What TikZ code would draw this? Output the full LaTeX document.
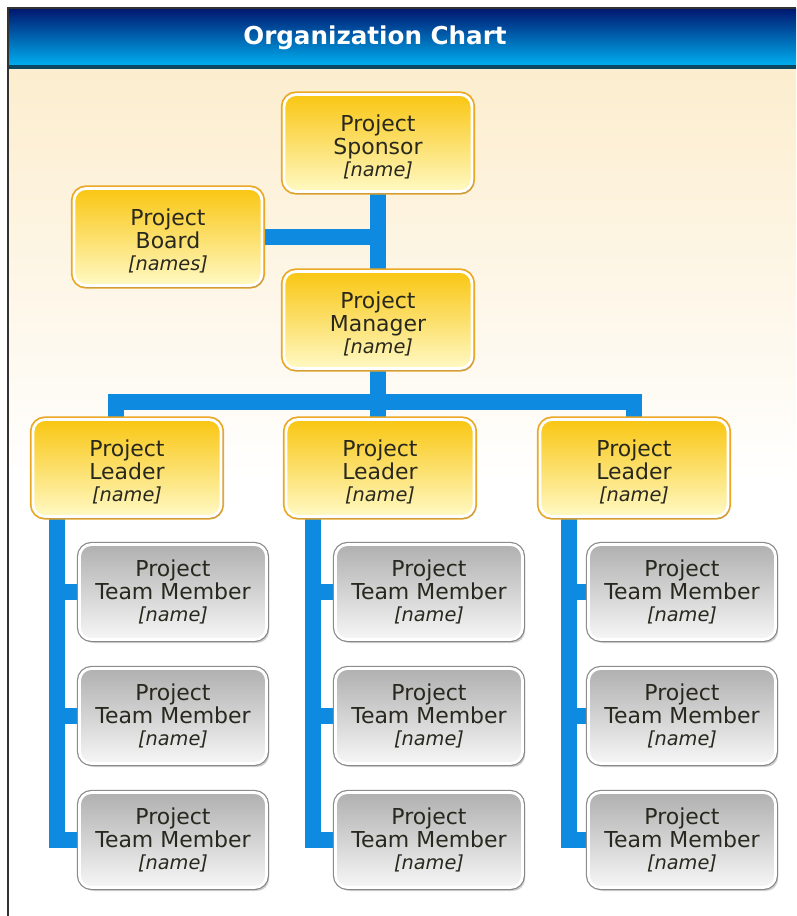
\documentclass[tikz,border=0pt]{standalone}
\usepackage{fontspec}
\setmainfont{DejaVu Sans}
\usetikzlibrary{positioning,shadows,backgrounds}

\definecolor{barblue}{RGB}{14,138,224}
\definecolor{goldtop}{RGB}{249,198,18}
\definecolor{goldbot}{RGB}{255,249,196}
\definecolor{goldedge}{RGB}{234,168,36}
\definecolor{greytop}{RGB}{176,176,176}
\definecolor{greybot}{RGB}{246,246,246}
\definecolor{greyedge}{RGB}{140,140,140}
\definecolor{cream}{RGB}{252,237,206}
\definecolor{navy}{RGB}{0,22,110}
\definecolor{midblue}{RGB}{6,60,160}
\definecolor{cyanish}{RGB}{0,176,240}
\definecolor{rimteal}{RGB}{12,70,96}
\definecolor{textdark}{RGB}{40,40,30}

\tikzset{
  boss/.style={rounded corners=0.24cm, minimum width=3.76cm, minimum height=1.94cm,
    align=center, top color=goldtop, bottom color=goldbot, draw=white, line width=1.6pt,
    preaction={draw=goldedge, line width=3.6pt},
    drop shadow={opacity=0.25, shadow xshift=1pt, shadow yshift=-1.5pt},
    font=\fontsize{12.5}{12.8}\selectfont, text=textdark},
  member/.style={rounded corners=0.24cm, minimum width=3.74cm, minimum height=1.9cm,
    align=center, top color=greytop, bottom color=greybot, draw=white, line width=1.6pt,
    preaction={draw=greyedge, line width=3pt},
    drop shadow={opacity=0.35, shadow xshift=1.5pt, shadow yshift=-2pt},
    font=\fontsize{12.5}{12.8}\selectfont, text=textdark},
  bar/.style={draw=barblue, line width=9pt},
  titletext/.style={font=\bfseries\fontsize{14}{16}\selectfont, text=white}
}
\newcommand{\who}[1]{{\fontsize{11}{12.8}\selectfont\itshape[#1]}}
\newcommand{\up}{\rule{0pt}{14.5pt}}

\begin{document}
\begin{tikzpicture}[x=0.02cm, y=-0.02cm]
  \useasboundingbox (0,0) rectangle (796,916);

  % boxes
  \node[boss] (sponsor) at (378,143) {\up Project\\Sponsor\\\who{name}};
  \node[boss] (board) at (168,237) {\up Project\\Board\\\who{names}};
  \node[boss] (manager) at (378,320) {\up Project\\Manager\\\who{name}};
  \node[boss] (lead1) at (127,468) {\up Project\\Leader\\\who{name}};
  \node[boss] (lead2) at (380,468) {\up Project\\Leader\\\who{name}};
  \node[boss] (lead3) at (634,468) {\up Project\\Leader\\\who{name}};

  \node[member] (m11) at (173,592) {Project\\Team Member\\\who{name}};
  \node[member] (m12) at (173,716) {Project\\Team Member\\\who{name}};
  \node[member] (m13) at (173,840) {Project\\Team Member\\\who{name}};
  \node[member] (m21) at (429,592) {Project\\Team Member\\\who{name}};
  \node[member] (m22) at (429,716) {Project\\Team Member\\\who{name}};
  \node[member] (m23) at (429,840) {Project\\Team Member\\\who{name}};
  \node[member] (m31) at (682,592) {Project\\Team Member\\\who{name}};
  \node[member] (m32) at (682,716) {Project\\Team Member\\\who{name}};
  \node[member] (m33) at (682,840) {Project\\Team Member\\\who{name}};

  \begin{scope}[on background layer]
    % page, backdrop and title bar
    \fill[white] (0,0) rectangle (796,916);
    \shade[top color=cream, bottom color=white] (8,69) rectangle (796,480);
    \shade[top color=navy, middle color=midblue, bottom color=cyanish] (8,8) rectangle (796,66);
    \fill[rimteal] (8,65) rectangle (796,69);
    \draw[black!80, line width=1pt] (8,916) -- (8,8) -- (796,8);
    \node[titletext] (title) at (375,38) {Organization Chart};

    % connectors
    \coordinate (split) at (378,402);
    \coordinate (drop1) at (116,402);
    \coordinate (spine1) at (57,468);
    \coordinate (spine2) at (313,468);
    \coordinate (spine3) at (569,468);
    \draw[bar] (sponsor.south) -- (manager.north);
    \draw[bar] (board.east) -- (board.east -| sponsor.south);
    \draw[bar] (manager.south) -- (split);
    \draw[bar] (drop1 |- lead1.north) -- (drop1) -| (lead3.north);
    \draw[bar] (split) -- (split |- lead2.north);

    \draw[bar] (spine1 |- lead1.south) |- (m13.west);
    \draw[bar] (spine1 |- m11.west) -- (m11.west);
    \draw[bar] (spine1 |- m12.west) -- (m12.west);
    \draw[bar] (spine2 |- lead2.south) |- (m23.west);
    \draw[bar] (spine2 |- m21.west) -- (m21.west);
    \draw[bar] (spine2 |- m22.west) -- (m22.west);
    \draw[bar] (spine3 |- lead3.south) |- (m33.west);
    \draw[bar] (spine3 |- m31.west) -- (m31.west);
    \draw[bar] (spine3 |- m32.west) -- (m32.west);
  \end{scope}
\end{tikzpicture}
\end{document}
